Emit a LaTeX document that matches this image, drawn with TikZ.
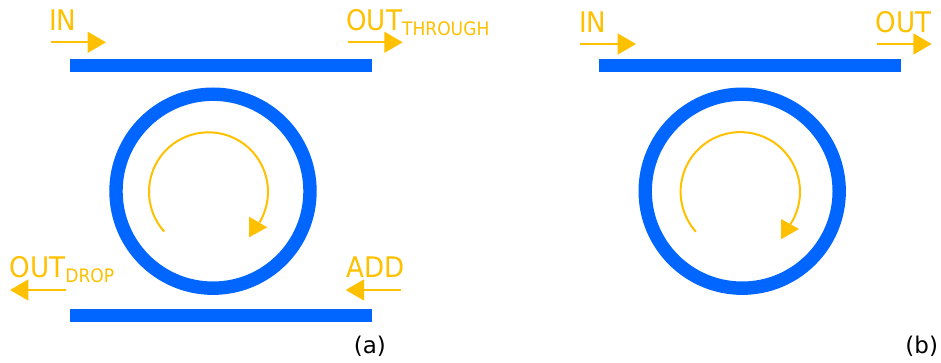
\documentclass[tikz,border=0pt]{standalone}
\usepackage{fontspec}
\setmainfont{DejaVu Sans}[FakeStretch=0.92]
\newfontfamily\capfont{DejaVu Sans}
\usetikzlibrary{arrows.meta,calc}
\definecolor{ringblue}{HTML}{0066FF}
\definecolor{sigyellow}{HTML}{FFC000}
\tikzset{
  wg/.style={draw=ringblue, line width=13.4pt},
  sigarrow/.style={draw=sigyellow, line width=2.2pt, -{Triangle[length=18.3pt,width=20.7pt]}},
  circarrow/.style={draw=sigyellow, line width=2pt},
  headtri/.style={fill=sigyellow, draw=none},
  lbl/.style={text=sigyellow, inner sep=0pt, anchor=base west, font=\fontsize{28.4}{30}\selectfont},
  panelcap/.style={text=black, inner sep=0pt, anchor=center, font=\capfont\fontsize{23}{25}\selectfont}
}
\newcommand{\subtxt}[1]{\raisebox{-5pt}{\fontsize{18.6}{20}\selectfont #1}}
\begin{document}
\begin{tikzpicture}[x=1pt,y=-1pt]
\useasboundingbox (0,0) rectangle (941,363);
% ---------- panel (a) ----------
\coordinate (aTopL) at (70,65.35);
\coordinate (aTopR) at (372,65.35);
\coordinate (aBotL) at (70,315.65);
\coordinate (aBotR) at (372,315.65);
\coordinate (aC) at (213,191.2);
\draw[wg] (aTopL) -- (aTopR);
\draw[wg] (aBotL) -- (aBotR);
\draw[wg] (aC) circle[radius=97];
% circulation arrow
\coordinate (aAC) at (208.5,191.8);
\draw[circarrow] ($(aAC)+(138:59.5)$) arc[start angle=138, end angle=391, radius=59.5];
\fill[headtri] (249,216.7) -- (249,237.3) -- (267.3,227.3) -- cycle;
% signal arrows
\coordinate (aInS) at (51,42.3);   \coordinate (aInE) at (106,42.3);
\coordinate (aThS) at (347.7,42.3); \coordinate (aThE) at (402.7,42.3);
\coordinate (aDrS) at (65.7,290);  \coordinate (aDrE) at (10,290);
\coordinate (aAdS) at (400.7,290); \coordinate (aAdE) at (345.7,290);
\draw[sigarrow] (aInS) -- (aInE);
\draw[sigarrow] (aThS) -- (aThE);
\draw[sigarrow] (aDrS) -- (aDrE);
\draw[sigarrow] (aAdS) -- (aAdE);
\node[lbl] (aIn) at (49,30.7) {IN};
\node[lbl] (aThrough) at (346.2,30.7) {OUT\subtxt{THROUGH}};
\node[lbl] (aDrop) at (9.5,277) {OUT\subtxt{DROP}};
\node[lbl] (aAdd) at (346.5,277.3) {ADD};
\node[panelcap] (aCap) at (369.8,346.2) {(a)};
% ---------- panel (b) ----------
\coordinate (bTopL) at (599,65.35);
\coordinate (bTopR) at (901,65.35);
\coordinate (bC) at (742.2,191.2);
\draw[wg] (bTopL) -- (bTopR);
\draw[wg] (bC) circle[radius=97];
\coordinate (bAC) at (740.3,191.8);
\draw[circarrow] ($(bAC)+(138:59.7)$) arc[start angle=138, end angle=393, radius=59.7];
\fill[headtri] (781,219) -- (781,239.3) -- (799,229) -- cycle;
\coordinate (bInS) at (580,44);   \coordinate (bInE) at (636,44);
\coordinate (bOutS) at (876.7,44); \coordinate (bOutE) at (931.7,44);
\draw[sigarrow] (bInS) -- (bInE);
\draw[sigarrow] (bOutS) -- (bOutE);
\node[lbl] (bIn) at (579,32.3) {IN};
\node[lbl] (bOut) at (875.3,32.3) {OUT};
\node[panelcap] (bCap) at (921.7,346.2) {(b)};
\end{tikzpicture}
\end{document}
